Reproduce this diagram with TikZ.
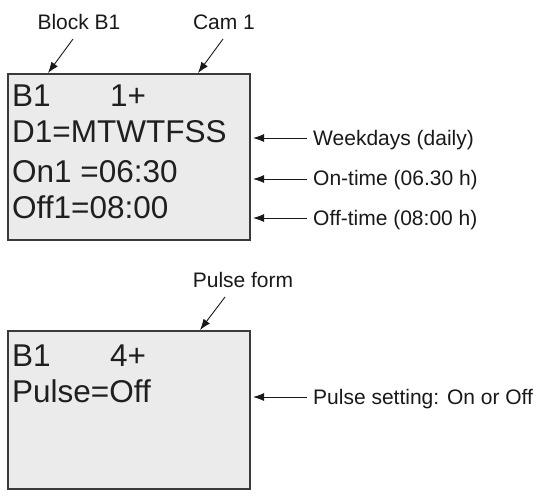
\documentclass[tikz,border=0pt]{standalone}
\usepackage{fontspec}
\setmainfont{Liberation Sans}
\usetikzlibrary{arrows.meta}
\definecolor{lcdfill}{HTML}{EBEBEB}
\definecolor{lcdedge}{HTML}{3A3A3A}
\tikzset{
  lcd/.style={draw=lcdedge, line width=1.4pt, fill=lcdfill},
  lcdtext/.style={anchor=base west, inner sep=0pt, font=\fontsize{31.5}{31}\selectfont, text=black!88},
  lbl/.style={anchor=base west, inner sep=0pt, font=\fontsize{21}{21}\selectfont, text=black!90},
  toplbl/.style={anchor=base, inner sep=0pt, font=\fontsize{21}{21}\selectfont, text=black!90},
  ptr/.style={-{Latex[length=11pt,width=8pt]}, line width=0.9pt, black!90}
}
\begin{document}
\begin{tikzpicture}[x=1pt,y=-1pt]
\useasboundingbox (0,0) rectangle (537,496);
% Box 1
\draw[lcd] (8,74) rectangle (250,240);
\node[lcdtext] (b1a) at (12,106) {B1};
\node[lcdtext] (c1) at (110,106) {1+};
\node[lcdtext] (d1) at (12,142) {D1=MTWTFSS};
\node[lcdtext] (on1) at (12,182) {On1 =06:30};
\node[lcdtext] (off1) at (12,218) {Off1=08:00};
% top labels
\node[toplbl] (blk) at (79,29) {Block B1};
\node[toplbl] (cam) at (224,29) {Cam 1};
\coordinate (blkS) at (73,39);
\coordinate (blkT) at (48,73);
\coordinate (camS) at (223,39);
\coordinate (camT) at (198,73);
\draw[ptr] (blkS) -- (blkT);
\draw[ptr] (camS) -- (camT);
% right labels box 1
\node[lbl] (wk) at (313,145) {Weekdays (daily)};
\node[lbl] (ont) at (313,185) {On-time (06.30 h)};
\node[lbl] (offt) at (313,225) {Off-time (08:00 h)};
\coordinate (wkT) at (253,138);
\coordinate (onT) at (253,179);
\coordinate (offT) at (253,218);
\draw[ptr] (wk.west |- wkT) ++(-6,0) coordinate (wkS) (wkS) -- (wkT);
\draw[ptr] (ont.west |- onT) ++(-6,0) coordinate (onS) (onS) -- (onT);
\draw[ptr] (offt.west |- offT) ++(-6,0) coordinate (offS) (offS) -- (offT);
% Box 2
\draw[lcd] (8,331) rectangle (250,489);
\node[lcdtext] (b1b) at (12,366) {B1};
\node[lcdtext] (c4) at (110,366) {4+};
\node[lcdtext] (pul) at (12,402) {Pulse=Off};
\node[toplbl] (pf) at (243,287) {Pulse form};
\coordinate (pfS) at (225,297);
\coordinate (pfT) at (200,330);
\draw[ptr] (pfS) -- (pfT);
\node[lbl] (ps) at (313,404) {Pulse setting: On or Off};
\coordinate (psT) at (253,397);
\draw[ptr] (ps.west |- psT) ++(-6,0) coordinate (psS) (psS) -- (psT);
\end{tikzpicture}
\end{document}
